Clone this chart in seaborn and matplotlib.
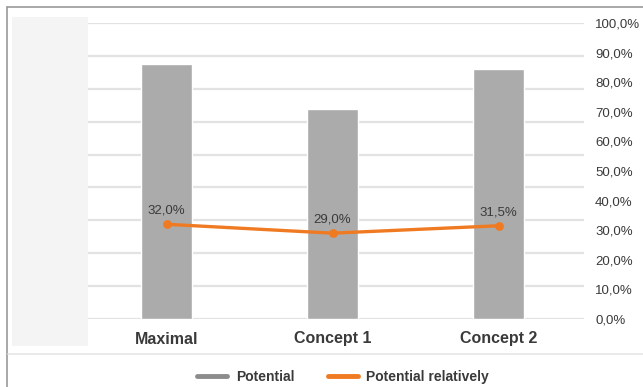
import matplotlib
matplotlib.use("Agg")
import matplotlib.pyplot as plt
import seaborn as sns
import pandas as pd
from matplotlib.lines import Line2D
from matplotlib.patches import Rectangle

categories = ["Maximal", "Concept 1", "Concept 2"]
potential = [77.5, 64.0, 76.0]          # hidden left scale (gridlines)
potential_rel = [0.320, 0.290, 0.315]   # right scale
rel_labels = ["32,0%", "29,0%", "31,5%"]
right_ticks = [i / 10 for i in range(11)]
right_tick_labels = [f"{i*10},0%" for i in range(11)]

sns.set_theme(style="white")
plt.rcParams["font.family"] = ["Liberation Sans", "DejaVu Sans"]

W, H = 643, 387
fig = plt.figure(figsize=(W / 100, H / 100), dpi=100)

def fx(x): return x / W
def fy(y): return 1 - y / H

fig.add_artist(Line2D([fx(7), 1], [fy(7), fy(7)], color="#9a9a9a", lw=1.2))
fig.add_artist(Line2D([fx(7), fx(7)], [fy(7), 0], color="#9a9a9a", lw=1.2))
fig.add_artist(Rectangle((fx(12), fy(346)), fx(88) - fx(12), fy(17) - fy(346),
                         transform=fig.transFigure, facecolor="#f4f4f4", edgecolor="none", zorder=0))
fig.add_artist(Line2D([fx(8), 1], [fy(354), fy(354)], color="#e6e6e6", lw=1.2))

ax = fig.add_axes([fx(88), fy(319), fx(584) - fx(88), fy(23) - fy(319)])
ax.set_facecolor("none")

df = pd.DataFrame({"cat": categories, "pot": potential, "rel": potential_rel})
sns.barplot(data=df, x="cat", y="pot", ax=ax, color="#ababab", width=0.31,
            saturation=1, zorder=2)
ax.set_ylim(0, 90)
ax.set_yticks(range(0, 91, 10))
ax.yaxis.grid(True, color="#e2e2e2", lw=1.6, zorder=0)
ax.set_axisbelow(True)
ax.tick_params(axis="y", which="both", left=False, right=False, length=0,
               labelleft=False, labelright=False)
ax.tick_params(axis="x", bottom=False, length=0, pad=9)
for lab in ax.get_xticklabels():
    lab.set_fontweight("bold")
    lab.set_fontsize(11.5)
    lab.set_color("#3a3a3a")
ax.set_xlabel("")
ax.set_ylabel("")
for s in ax.spines.values():
    s.set_visible(False)

ax2 = ax.twinx()
sns.pointplot(data=df, x="cat", y="rel", ax=ax2, color="#f07a22",
              markers="o", markersize=4.5, linewidth=2.4)
ax2.set_ylim(0, 1)
ax2.set_yticks(right_ticks)
ax2.set_yticklabels(right_tick_labels)
ax2.tick_params(axis="y", which="both", left=False, right=False, length=0,
                pad=8, labelsize=9.5, labelcolor="#3a3a3a")
ax2.tick_params(axis="x", bottom=False, top=False, length=0)
ax2.set_ylabel("")
ax2.set_xlabel("")
for s in ax2.spines.values():
    s.set_visible(False)
for i, (v, t) in enumerate(zip(potential_rel, rel_labels)):
    ax2.annotate(t, (i, v), xytext=(0, 5.5), textcoords="offset points",
                 ha="center", va="bottom", fontsize=9.5, color="#3a3a3a")
ax.set_xlim(-0.473, 2.515)
ax2.set_xlim(-0.473, 2.515)

handles = [Line2D([0], [0], color="#8c8c8c", lw=3.5),
           Line2D([0], [0], color="#f07a22", lw=3.5)]
leg = fig.legend(handles, ["Potential", "Potential relatively"], loc="center",
                 bbox_to_anchor=(fx(343), fy(377)), ncol=2, frameon=False,
                 handlelength=2.2, columnspacing=2.4, handletextpad=0.6,
                 prop={"weight": "bold", "size": 10})
for t in leg.get_texts():
    t.set_color("#3a3a3a")

fig.savefig("out.png", dpi=100)
